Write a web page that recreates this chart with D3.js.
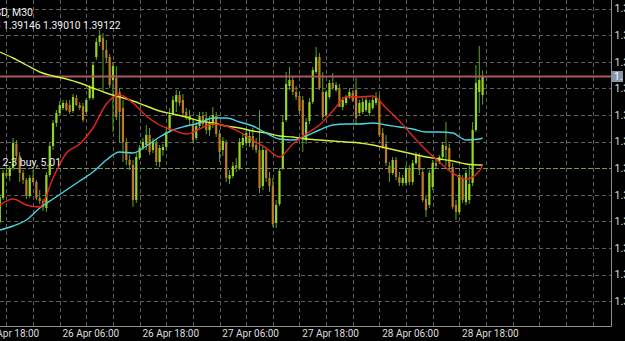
<!DOCTYPE html>
<html>
<head>
<meta charset="utf-8">
<script src="https://cdn.jsdelivr.net/npm/d3@7"></script>
<style>
  html, body { margin: 0; padding: 0; background: #000; overflow: hidden; }
  svg { display: block; font-family: Roboto, sans-serif; }
</style>
</head>
<body>
<svg id="chart" width="625" height="341"></svg>
<script>
// GBPUSD M30, first bar 25 Apr 21:00 (server time), one bar every 30 min
const firstBar = Date.UTC(2021, 3, 25, 21, 0);

const open = [
  1.38540, 1.38636, 1.38736, 1.38724, 1.38756, 1.38852, 1.38804, 1.38736, 1.38708, 1.38644,
  1.38716, 1.38700, 1.38636, 1.38624, 1.38596, 1.38728, 1.38844, 1.38936, 1.38976, 1.38996,
  1.39016, 1.39008, 1.38984, 1.39036, 1.39008, 1.39004, 1.38980, 1.39036, 1.39036, 1.39200,
  1.39260, 1.39276, 1.39228, 1.39200, 1.39108, 1.39116, 1.39060, 1.38996, 1.38860, 1.38788,
  1.38768, 1.38628, 1.38796, 1.38836, 1.38848, 1.38888, 1.38828, 1.38856, 1.38780, 1.38828,
  1.38840, 1.38908, 1.38972, 1.39020, 1.39048, 1.39028, 1.38980, 1.38948, 1.38928, 1.38876,
  1.38924, 1.38964, 1.38956, 1.38908, 1.38928, 1.38964, 1.38892, 1.38828, 1.38856, 1.38712,
  1.38724, 1.38768, 1.38756, 1.38848, 1.38856, 1.38856, 1.38884, 1.38848, 1.38828, 1.38684,
  1.38828, 1.38716, 1.38684, 1.38536, 1.38612, 1.38756, 1.38948, 1.39084, 1.39108, 1.39060,
  1.39044, 1.39028, 1.38868, 1.38944, 1.39020, 1.39140, 1.39200, 1.39060, 1.38968, 1.39040,
  1.39096, 1.39068, 1.39076, 1.39000, 1.39016, 1.39040, 1.39056, 1.39068, 1.38976, 1.38980,
  1.38988, 1.38976, 1.38996, 1.39016, 1.39028, 1.38896, 1.38852, 1.38764, 1.38736, 1.38788,
  1.38720, 1.38696, 1.38696, 1.38756, 1.38700, 1.38776, 1.38808, 1.38740, 1.38632, 1.38608,
  1.38680, 1.38776, 1.38780, 1.38800, 1.38844, 1.38836, 1.38760, 1.38608, 1.38580, 1.38716,
  1.38620, 1.38628, 1.38696, 1.38908, 1.39060, 1.39048
];
const high = [
  1.38652, 1.38748, 1.38764, 1.38764, 1.38876, 1.38868, 1.38820, 1.38748, 1.38716, 1.38728,
  1.38748, 1.38708, 1.38668, 1.38632, 1.38740, 1.38856, 1.38948, 1.38988, 1.39024, 1.39028,
  1.39028, 1.39028, 1.39052, 1.39048, 1.39020, 1.39016, 1.39036, 1.39088, 1.39180, 1.39276,
  1.39308, 1.39296, 1.39268, 1.39212, 1.39180, 1.39164, 1.39076, 1.39028, 1.38876, 1.38808,
  1.38788, 1.38816, 1.38848, 1.38876, 1.38928, 1.38916, 1.38876, 1.38868, 1.38848, 1.38852,
  1.38916, 1.38996, 1.39044, 1.39068, 1.39064, 1.39052, 1.38996, 1.38988, 1.38956, 1.38940,
  1.38980, 1.38980, 1.38980, 1.38964, 1.39000, 1.38980, 1.38908, 1.38880, 1.38868, 1.38748,
  1.38780, 1.38796, 1.38876, 1.38896, 1.38916, 1.38904, 1.38916, 1.38876, 1.38988, 1.38844,
  1.38836, 1.38740, 1.38716, 1.38628, 1.38756, 1.38968, 1.39140, 1.39160, 1.39124, 1.39084,
  1.39060, 1.39044, 1.38956, 1.39036, 1.39160, 1.39240, 1.39216, 1.39140, 1.39068, 1.39108,
  1.39136, 1.39100, 1.39092, 1.39040, 1.39048, 1.39076, 1.39068, 1.39116, 1.39028, 1.39036,
  1.39044, 1.39028, 1.39040, 1.39060, 1.39048, 1.38916, 1.38888, 1.38780, 1.38800, 1.38800,
  1.38740, 1.38728, 1.38768, 1.38768, 1.38788, 1.38820, 1.38816, 1.38756, 1.38648, 1.38748,
  1.38788, 1.38796, 1.38808, 1.38860, 1.38940, 1.38852, 1.38776, 1.38628, 1.38736, 1.38728,
  1.38748, 1.38768, 1.38940, 1.39168, 1.39244, 1.39146
];
const low = [
  1.38528, 1.38628, 1.38716, 1.38704, 1.38748, 1.38792, 1.38700, 1.38692, 1.38632, 1.38636,
  1.38696, 1.38628, 1.38612, 1.38584, 1.38580, 1.38720, 1.38828, 1.38920, 1.38968, 1.38988,
  1.38984, 1.38972, 1.38976, 1.39004, 1.38988, 1.38940, 1.38972, 1.39028, 1.39028, 1.39188,
  1.39244, 1.39060, 1.39180, 1.39076, 1.38900, 1.38948, 1.38860, 1.38780, 1.38768, 1.38748,
  1.38600, 1.38616, 1.38788, 1.38828, 1.38828, 1.38808, 1.38816, 1.38764, 1.38760, 1.38804,
  1.38828, 1.38896, 1.38964, 1.38980, 1.39004, 1.38968, 1.38948, 1.38928, 1.38856, 1.38868,
  1.38916, 1.38916, 1.38892, 1.38884, 1.38916, 1.38880, 1.38780, 1.38804, 1.38700, 1.38692,
  1.38716, 1.38740, 1.38748, 1.38836, 1.38844, 1.38840, 1.38828, 1.38816, 1.38656, 1.38668,
  1.38700, 1.38660, 1.38520, 1.38516, 1.38604, 1.38748, 1.38940, 1.39068, 1.39048, 1.39028,
  1.38972, 1.38820, 1.38852, 1.38932, 1.39012, 1.39132, 1.39068, 1.38948, 1.38960, 1.39032,
  1.39068, 1.39060, 1.39004, 1.38988, 1.39008, 1.39032, 1.39020, 1.38928, 1.38964, 1.38972,
  1.38980, 1.38964, 1.38988, 1.39008, 1.38880, 1.38832, 1.38764, 1.38700, 1.38728, 1.38708,
  1.38684, 1.38684, 1.38688, 1.38688, 1.38688, 1.38768, 1.38728, 1.38620, 1.38560, 1.38596,
  1.38668, 1.38756, 1.38772, 1.38788, 1.38764, 1.38748, 1.38592, 1.38548, 1.38568, 1.38616,
  1.38608, 1.38612, 1.38684, 1.38900, 1.38976, 1.39010
];
const close = [
  1.38640, 1.38736, 1.38724, 1.38756, 1.38856, 1.38804, 1.38736, 1.38708, 1.38644, 1.38716,
  1.38700, 1.38636, 1.38624, 1.38600, 1.38728, 1.38844, 1.38936, 1.38976, 1.39008, 1.39016,
  1.38988, 1.38980, 1.39040, 1.39008, 1.38996, 1.38948, 1.39028, 1.39080, 1.39168, 1.39260,
  1.39284, 1.39228, 1.39196, 1.39088, 1.39164, 1.38960, 1.38980, 1.38860, 1.38788, 1.38768,
  1.38628, 1.38800, 1.38836, 1.38860, 1.38888, 1.38820, 1.38860, 1.38780, 1.38836, 1.38840,
  1.38900, 1.38968, 1.39028, 1.39048, 1.39016, 1.38976, 1.38956, 1.38964, 1.38868, 1.38924,
  1.38964, 1.38932, 1.38908, 1.38940, 1.38968, 1.38892, 1.38820, 1.38864, 1.38716, 1.38728,
  1.38764, 1.38756, 1.38860, 1.38876, 1.38896, 1.38884, 1.38840, 1.38828, 1.38676, 1.38828,
  1.38716, 1.38684, 1.38532, 1.38608, 1.38744, 1.38940, 1.39092, 1.39108, 1.39060, 1.39040,
  1.38984, 1.38888, 1.38940, 1.39020, 1.39148, 1.39200, 1.39076, 1.38960, 1.39060, 1.39096,
  1.39076, 1.39088, 1.39000, 1.39028, 1.39040, 1.39060, 1.39028, 1.38956, 1.39016, 1.39020,
  1.39028, 1.39016, 1.39028, 1.39040, 1.38888, 1.38840, 1.38776, 1.38736, 1.38788, 1.38720,
  1.38696, 1.38716, 1.38756, 1.38700, 1.38776, 1.38808, 1.38748, 1.38628, 1.38588, 1.38736,
  1.38776, 1.38764, 1.38800, 1.38848, 1.38828, 1.38760, 1.38600, 1.38580, 1.38728, 1.38628,
  1.38736, 1.38692, 1.38908, 1.39096, 1.39108, 1.39122
];

// moving averages, read every 4th bar (bar index from firstBar)
const maIdx = [0, 4, 8, 12, 16, 20, 24, 28, 32, 36, 40, 44, 48, 52, 56, 60, 64, 68, 72,
  76, 80, 84, 88, 92, 96, 100, 104, 108, 112, 116, 120, 124, 128, 132, 136, 140, 144, 145];
const maFast = [
  1.38608, 1.38632, 1.38608, 1.38600, 1.38716, 1.38816, 1.38852, 1.38916, 1.39012, 1.39048,
  1.39016, 1.38964, 1.38928, 1.38908, 1.38892, 1.38912, 1.38932, 1.38924, 1.38900, 1.38868,
  1.38836, 1.38800, 1.38852, 1.38892, 1.38928, 1.38984, 1.39040, 1.39040, 1.39044, 1.38996,
  1.38944, 1.38884, 1.38828, 1.38780, 1.38736, 1.38712, 1.38744, 1.38768
];
const maMid = [
  1.38508, 1.38524, 1.38548, 1.38596, 1.38632, 1.38668, 1.38704, 1.38740, 1.38788, 1.38820,
  1.38816, 1.38844, 1.38880, 1.38908, 1.38924, 1.38936, 1.38956, 1.38956, 1.38940, 1.38924,
  1.38896, 1.38872, 1.38868, 1.38884, 1.38908, 1.38928, 1.38932, 1.38932, 1.38936, 1.38928,
  1.38920, 1.38912, 1.38900, 1.38900, 1.38896, 1.38868, 1.38872, 1.38876
];
const maSlow = [
  1.39220, 1.39196, 1.39168, 1.39140, 1.39124, 1.39112, 1.39096, 1.39076, 1.39056, 1.39040,
  1.39024, 1.39004, 1.38984, 1.38972, 1.38960, 1.38944, 1.38936, 1.38924, 1.38916, 1.38904,
  1.38896, 1.38884, 1.38880, 1.38872, 1.38868, 1.38864, 1.38860, 1.38856, 1.38848, 1.38836,
  1.38824, 1.38812, 1.38800, 1.38792, 1.38784, 1.38772, 1.38768, 1.38768
];

// price grid levels and time labels
const priceTicks = [1.39394, 1.39288, 1.39181, 1.39075, 1.38968, 1.38862,
  1.38756, 1.38649, 1.38543, 1.38436, 1.38330, 1.38224];
const timeLabels = ['2021-04-25T18:00', '2021-04-26T06:00', '2021-04-26T18:00',
  '2021-04-27T06:00', '2021-04-27T18:00', '2021-04-28T06:00', '2021-04-28T18:00'];

const bidPrice = 1.39122;
const orderPrice = 1.38756;
const orderText = '2-3 buy, 5.01';
const symbolText = 'GBPUSD, M30';
const ohlcText = '1.39048 1.39146 1.39010 1.39122';

const plotRight = 611;
const plotBottom = 326;

const svg = d3.select('#chart');
svg.append('rect').attr('width', 625).attr('height', 341).attr('fill', '#000');

const barTime = i => new Date(firstBar + i * 30 * 60 * 1000);
const parseT = d3.utcParse('%Y-%m-%dT%H:%M');

const x = d3.scaleUtc()
  .domain([new Date(Date.UTC(2021, 3, 26, 6)), new Date(Date.UTC(2021, 3, 28, 18))])
  .range([59.7, 459.3]);
const y = d3.scaleLinear()
  .domain([1.38124, 1.39428])
  .range([plotBottom, 0]);

const crisp = v => Math.round(v) + 0.5;

// grid
const grid = svg.append('g')
  .attr('stroke', '#5e5e5e')
  .attr('stroke-width', 1)
  .attr('stroke-dasharray', '4,3');

grid.selectAll('line.h')
  .data(priceTicks.filter(p => p !== orderPrice))
  .join('line')
  .attr('class', 'h')
  .attr('x1', 0).attr('x2', plotRight)
  .attr('y1', d => crisp(y(d))).attr('y2', d => crisp(y(d)));

// vertical grid every 4 hours starting 25 Apr 22:00
const gridStart = new Date(Date.UTC(2021, 3, 25, 22));
const vGrid = d3.range(0, 30)
  .map(j => d3.utcHour.offset(gridStart, 4 * j))
  .filter(t => x(t) < plotRight - 3);

grid.selectAll('line.v')
  .data(vGrid)
  .join('line')
  .attr('class', 'v')
  .attr('x1', d => crisp(x(d))).attr('x2', d => crisp(x(d)))
  .attr('y1', 0).attr('y2', plotBottom);

// order level
svg.append('line')
  .attr('x1', 0).attr('x2', plotRight)
  .attr('y1', crisp(y(orderPrice))).attr('y2', crisp(y(orderPrice)))
  .attr('stroke', '#6f9a56')
  .attr('stroke-dasharray', '5,2');

// candles
const bars = d3.range(open.length);
const candles = svg.append('g');

candles.selectAll('line')
  .data(bars)
  .join('line')
  .attr('x1', i => x(barTime(i))).attr('x2', i => x(barTime(i)))
  .attr('y1', i => y(high[i])).attr('y2', i => y(low[i]))
  .attr('stroke', '#5aa81c')
  .attr('stroke-width', 1);

candles.selectAll('rect')
  .data(bars)
  .join('rect')
  .attr('x', i => x(barTime(i)) - 1.1)
  .attr('width', 2.2)
  .attr('y', i => y(Math.max(open[i], close[i])))
  .attr('height', i => Math.max(1, Math.abs(y(open[i]) - y(close[i]))))
  .attr('fill', i => close[i] >= open[i] ? '#93d424' : '#c07a22');

// bid line
svg.append('line')
  .attr('x1', 0).attr('x2', plotRight)
  .attr('y1', y(bidPrice)).attr('y2', y(bidPrice))
  .attr('stroke', '#a85a64')
  .attr('stroke-width', 2);

// moving averages
const maLine = vals => d3.line()
  .x((d, j) => x(barTime(maIdx[j])))
  .y(d => y(d))
  .curve(d3.curveMonotoneX)(vals);

[[maSlow, '#d2ef3e'], [maMid, '#46d3e6'], [maFast, '#e4261e']].forEach(([vals, col]) => {
  svg.append('path')
    .attr('d', maLine(vals))
    .attr('fill', 'none')
    .attr('stroke', col)
    .attr('stroke-width', 1.4);
});

// frame
svg.append('path')
  .attr('d', `M0,${plotBottom + 0.5}H${plotRight + 0.5}V0`)
  .attr('fill', 'none')
  .attr('stroke', '#8e8e8e');

// price axis
const yAxis = svg.append('g')
  .attr('transform', `translate(${plotRight},0)`)
  .call(d3.axisRight(y).tickValues(priceTicks).tickFormat(d3.format('.5f')).tickSize(0).tickPadding(3.5));
yAxis.select('.domain').remove();
yAxis.selectAll('text')
  .attr('fill', '#dedede')
  .style('font-size', '10.5px')
  .style('font-family', 'Roboto, sans-serif');

// time axis
const xAxis = svg.append('g')
  .attr('transform', `translate(0,${plotBottom})`)
  .call(d3.axisBottom(x).tickValues(timeLabels.map(parseT))
    .tickFormat(d3.utcFormat('%-d %b %H:%M')).tickSize(0));
xAxis.select('.domain').remove();
xAxis.selectAll('text')
  .attr('text-anchor', 'start')
  .attr('x', 2.3)
  .attr('y', 10.5)
  .attr('dy', 0)
  .attr('fill', '#dedede')
  .style('font-size', '10px')
  .style('font-family', 'Roboto, sans-serif');

// bid price box
svg.append('clipPath').attr('id', 'bidClip')
  .append('rect').attr('x', 612).attr('y', y(bidPrice) - 5.5).attr('width', 11).attr('height', 11);
svg.append('rect')
  .attr('x', 612).attr('y', y(bidPrice) - 5.5)
  .attr('width', 11).attr('height', 11)
  .attr('fill', '#8797a8');
svg.append('text')
  .attr('x', 614).attr('y', y(bidPrice) + 3.8)
  .attr('clip-path', 'url(#bidClip)')
  .attr('fill', '#fff')
  .style('font-size', '10.5px')
  .text(d3.format('.5f')(bidPrice));

// texts
svg.append('text')
  .attr('x', 33).attr('y', 16)
  .attr('text-anchor', 'end')
  .attr('fill', '#f0f0f0')
  .style('font-size', '10.5px')
  .text(symbolText);

svg.append('text')
  .attr('x', 120.5).attr('y', 28.5)
  .attr('text-anchor', 'end')
  .attr('fill', '#f0f0f0')
  .style('font-size', '10.3px')
  .text(ohlcText);

svg.append('text')
  .attr('x', 2.5).attr('y', y(orderPrice) - 2.5)
  .attr('fill', '#ececec')
  .style('font-size', '10.5px')
  .text(orderText);
</script>
</body>
</html>
